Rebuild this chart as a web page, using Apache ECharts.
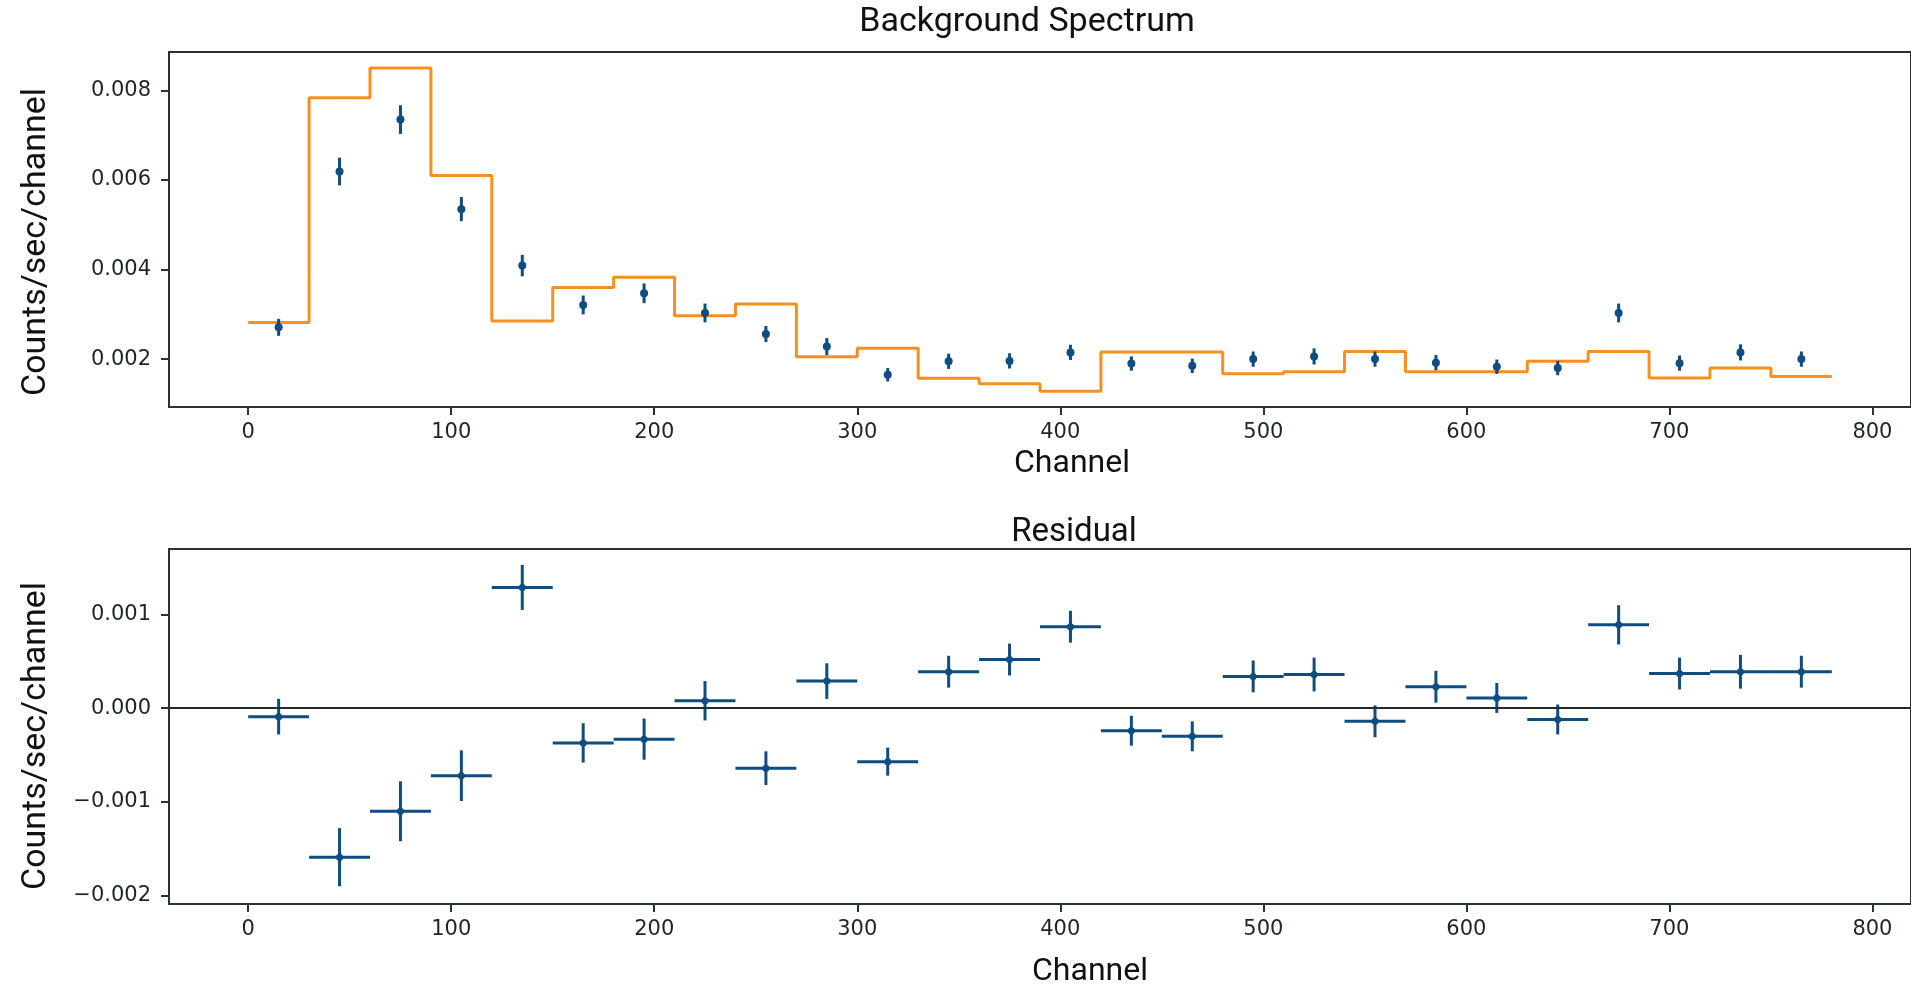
<!DOCTYPE html>
<html lang="en">
  <head>
    <meta charset="UTF-8" />
    <script src="https://cdn.jsdelivr.net/npm/echarts@6/dist/echarts.min.js"></script>
    <style>
      html,
      body {
        margin: 0;
        overflow: hidden;
        background: #fff;
      }
      #viewport {
        position: absolute;
        left: 0px;
        top: 0px;
        width: 1911px;
        height: 989px;
      }
    </style>
  </head>
  <body>
    <div id="viewport"></div>
    <script>
      // bin centres (channel), bins are 30 channels wide
      var channels = [15, 45, 75, 105, 135, 165, 195, 225, 255, 285, 315, 345, 375,
        405, 435, 465, 495, 525, 555, 585, 615, 645, 675, 705, 735, 765];
      var binHalfWidth = 15;

      // observed background rate
      var observed = [0.00271, 0.00619, 0.00735, 0.00535, 0.00409, 0.00321, 0.00347,
        0.00303, 0.00256, 0.00228, 0.00165, 0.00195, 0.00196, 0.00215, 0.0019,
        0.00185, 0.002, 0.00206, 0.002, 0.00192, 0.00183, 0.0018, 0.00303,
        0.00191, 0.00215, 0.002];

      // 1-sigma errors
      var errors = [0.00019, 0.00031, 0.00032, 0.00027, 0.00024, 0.00021, 0.00022,
        0.00021, 0.00018, 0.00019, 0.00015, 0.00017, 0.00017, 0.00017, 0.00016,
        0.00016, 0.00017, 0.00018, 0.00017, 0.00017, 0.00016, 0.00016, 0.00021,
        0.00017, 0.00018, 0.00017];

      // model (step histogram)
      var model = [0.00282, 0.00784, 0.0085, 0.0061, 0.00285, 0.0036, 0.00383,
        0.00297, 0.00323, 0.00205, 0.00224, 0.00157, 0.00145, 0.00128, 0.00216,
        0.00216, 0.00167, 0.00172, 0.00217, 0.00172, 0.00172, 0.00195, 0.00217,
        0.00158, 0.0018, 0.00161];

      // residual panel
      var residual = [-0.00009, -0.00159, -0.0011, -0.00072, 0.00129, -0.00037,
        -0.00033, 0.00008, -0.00064, 0.00029, -0.00057, 0.00039, 0.00052, 0.00087,
        -0.00024, -0.0003, 0.00034, 0.00036, -0.00014, 0.00023, 0.00011, -0.00012,
        0.00089, 0.00037, 0.00039, 0.00039];

      var xTicks = [0, 100, 200, 300, 400, 500, 600, 700, 800];
      var topTicks = [0.002, 0.004, 0.006, 0.008];
      var resTicks = [-0.002, -0.001, 0, 0.001];

      var BLUE = '#0f4c7f';
      var ORANGE = '#f7901e';
      var FRAME = '#2a332d';

      var stepData = channels.map(function (c, i) {
        return [c - binHalfWidth, model[i]];
      });
      stepData.push([channels[channels.length - 1] + binHalfWidth, model[model.length - 1]]);

      var obsData = channels.map(function (c, i) {
        return [c, observed[i], errors[i]];
      });
      var resData = channels.map(function (c, i) {
        return [c, residual[i], errors[i]];
      });

      function errRender(withX, r) {
        return function (params, api) {
          var x = api.value(0), y = api.value(1), e = api.value(2);
          var c = api.coord([x, y]);
          var lo = api.coord([x, y - e]);
          var hi = api.coord([x, y + e]);
          var kids = [
            { type: 'line', shape: { x1: lo[0], y1: lo[1], x2: hi[0], y2: hi[1] },
              style: { stroke: BLUE, lineWidth: 3 } }
          ];
          if (withX) {
            var l = api.coord([x - binHalfWidth, y]);
            var rr = api.coord([x + binHalfWidth, y]);
            kids.push({ type: 'line', shape: { x1: l[0], y1: l[1], x2: rr[0], y2: rr[1] },
              style: { stroke: BLUE, lineWidth: 3 } });
          }
          kids.push({ type: 'circle', shape: { cx: c[0], cy: c[1], r: r }, style: { fill: BLUE } });
          return { type: 'group', children: kids };
        };
      }

      function fmtTick(v) {
        if (Math.abs(v) < 1e-12) return '0.000';
        return (v < 0 ? '\u2212' : '') + Math.abs(v).toFixed(3);
      }

      var tickLabel = {
        fontFamily: 'DejaVu Sans',
        fontSize: 21,
        color: '#1f2622'
      };

      function xAxisOpt(idx) {
        return {
          type: 'value', gridIndex: idx, min: -39, max: 819,
          axisLine: { show: false, onZero: false },
          splitLine: { show: false },
          axisTick: { show: true, length: 8, customValues: xTicks, lineStyle: { color: FRAME, width: 2 } },
          axisLabel: Object.assign({ margin: 15, customValues: xTicks }, tickLabel)
        };
      }

      function yAxisOpt(idx, min, max, ticks) {
        return {
          type: 'value', gridIndex: idx, min: min, max: max,
          axisLine: { show: false, onZero: false },
          splitLine: { show: false },
          axisTick: { show: true, length: 8, customValues: ticks, lineStyle: { color: FRAME, width: 2 } },
          axisLabel: Object.assign({ margin: 18, customValues: ticks, formatter: fmtTick }, tickLabel)
        };
      }

      function label(text, x, y, size, rot) {
        return {
          type: 'text', x: x, y: y, rotation: rot || 0,
          style: {
            text: text, fontFamily: 'Roboto', fontSize: size, fill: '#111',
            textAlign: 'center', textVerticalAlign: 'middle'
          }
        };
      }

      var myChart = echarts.init(document.getElementById('viewport'));
      var option = {
        animation: false,
        backgroundColor: '#fff',
        grid: [
          { left: 169, top: 52, width: 1747, height: 355, show: true, borderColor: FRAME, borderWidth: 2 },
          { left: 169, top: 549, width: 1747, height: 355, show: true, borderColor: FRAME, borderWidth: 2 }
        ],
        xAxis: [xAxisOpt(0), xAxisOpt(1)],
        yAxis: [
          yAxisOpt(0, 0.00093, 0.00886, topTicks),
          yAxisOpt(1, -0.00209, 0.0017, resTicks)
        ],
        graphic: [
          label('Background Spectrum', 1027, 22, 34),
          label('Channel', 1072, 464, 32),
          label('Residual', 1074, 533, 33),
          label('Channel', 1090, 972, 32),
          label('Counts/sec/channel', 36, 242, 34, Math.PI / 2),
          label('Counts/sec/channel', 36, 736, 34, Math.PI / 2)
        ],
        series: [
          {
            name: 'Model', type: 'line', xAxisIndex: 0, yAxisIndex: 0,
            step: 'end', data: stepData, showSymbol: false, z: 2,
            lineStyle: { color: ORANGE, width: 3 }
          },
          {
            name: 'Data', type: 'custom', xAxisIndex: 0, yAxisIndex: 0, z: 3,
            data: obsData, encode: { x: 0, y: 1 }, renderItem: errRender(false, 4)
          },
          {
            name: 'Residual', type: 'custom', xAxisIndex: 1, yAxisIndex: 1, z: 3,
            data: resData, encode: { x: 0, y: 1 }, renderItem: errRender(true, 3.5),
            markLine: {
              silent: true, symbol: 'none', label: { show: false },
              lineStyle: { color: '#262b28', width: 2, type: 'solid' },
              data: [{ yAxis: 0 }]
            }
          }
        ]
      };
      myChart.setOption(option);
    </script>
  </body>
</html>
